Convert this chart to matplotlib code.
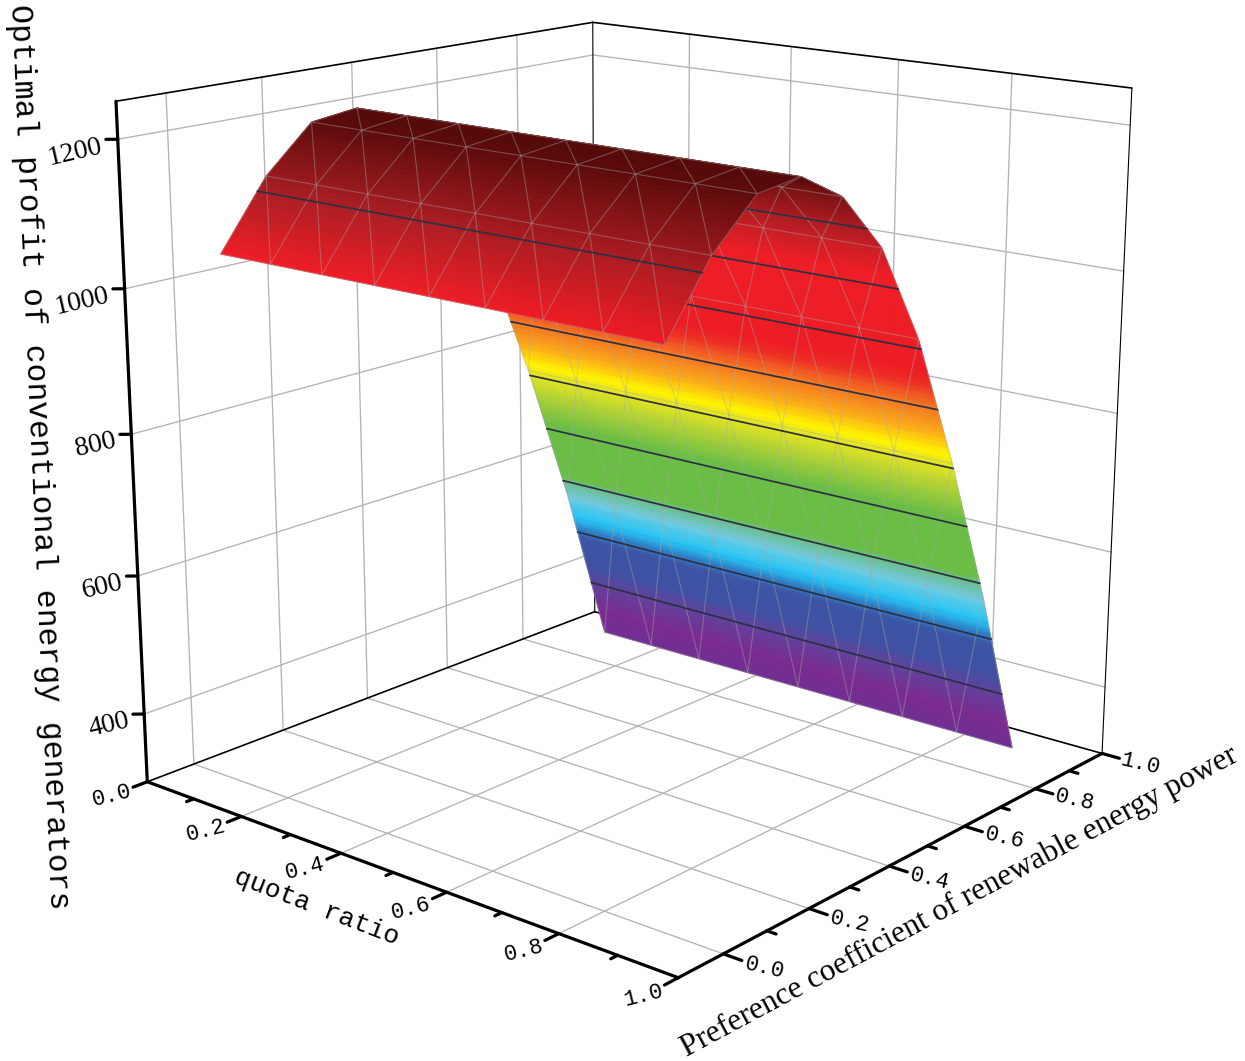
import numpy as np
import matplotlib
matplotlib.use('Agg')
import matplotlib.pyplot as plt
from matplotlib.colors import LinearSegmentedColormap, Normalize
from mpl_toolkits.mplot3d import proj3d
from mpl_toolkits.mplot3d.art3d import Line3DCollection

# values
quota = [0.1, 0.2, 0.3, 0.4, 0.5, 0.6, 0.7, 0.8, 0.9]
pref = [0.0, 0.1, 0.2, 0.3, 0.4, 0.5, 0.6, 0.7, 0.8, 0.9]
profit = [1046, 1138, 1199, 1207, 1169, 1090, 955, 768, 555, 310]
contour_levels = [400, 490, 580, 670, 760, 850, 940, 1030, 1120]

quota_ticks = [0.0, 0.2, 0.4, 0.6, 0.8, 1.0]
pref_ticks = [0.0, 0.2, 0.4, 0.6, 0.8, 1.0]
profit_ticks = [400, 600, 800, 1000, 1200]
quota_minor = [0.1, 0.3, 0.5, 0.7, 0.9]
pref_minor = [0.1, 0.3, 0.5, 0.7, 0.9]

QMIN, QMAX = 0.0, 1.0
PMIN, PMAX = -0.1, 1.0
ZMIN, ZMAX = 300, 1250
RIDGE = 3  # index of top row in pref

color_stops = [
    (300, '#6c2f92'), (350, '#7b2a90'), (400, '#5f429c'), (430, '#3e50a2'),
    (480, '#3b54a4'), (500, '#2a8fd0'), (518, '#27c4f4'), (550, '#6ccbe3'),
    (575, '#6dbf9a'), (590, '#6abd45'), (680, '#6abd45'), (730, '#b3d235'),
    (765, '#e6e61f'), (782, '#fff200'), (810, '#fcb316'), (830, '#f7941d'),
    (851, '#f47a20'), (890, '#ed2a24'), (910, '#ed1c24'), (1050, '#ed1c24'),
    (1120, '#ad1d23'), (1207, '#570a0a'),
]

W, H = 1245, 1061
MONO = 'Liberation Mono'
SERIF = 'Liberation Serif'

norm = Normalize(300, 1207)
cmap = LinearSegmentedColormap.from_list(
    'origin', [(norm(z), c) for z, c in color_stops], N=180)

fig = plt.figure(figsize=(W/100, H/100), dpi=100)
ax = fig.add_axes([27.31/W, 16.58/H, 1174.24/W, 1174.24/H], projection='3d',
                  computed_zorder=False)
ax.view_init(elev=15.8556, azim=-49.7085)
ax.set_proj_type('persp', focal_length=0.4851)
ax.set_box_aspect((1.0023, 0.9958, 1))
ax.set_axis_off()
ax.set_xlim(QMIN, QMAX)
ax.set_ylim(PMIN, PMAX)
ax.set_zlim(ZMIN, ZMAX)
ax.set_autoscale_on(False)
ax.set_xticks([])
ax.set_yticks([])
ax.set_zticks([])


def seg(ax, xs, ys, zs, zorder=1, **kw):
    ax.plot(xs, ys, zs, solid_capstyle='round', zorder=zorder, **kw)


def label(x, y, z, s, **kw):
    # 2D text placed at the projected point, so it knows its place on the page
    u, v, _ = proj3d.proj_transform(x, y, z, ax.get_proj())
    ax.text2D(u, v, s, transform=ax.transData, va='center',
              rotation_mode='anchor', zorder=13, **kw)


# walls and floor
GRID = dict(color='#b5b2b2', lw=0.95)
for z in profit_ticks:
    seg(ax, [QMIN, QMIN], [PMIN, PMAX], [z, z], **GRID)
    seg(ax, [QMIN, QMAX], [PMAX, PMAX], [z, z], **GRID)
for p in pref_ticks[:-1]:
    seg(ax, [QMIN, QMIN], [p, p], [ZMIN, ZMAX], **GRID)
    seg(ax, [QMIN, QMAX], [p, p], [ZMIN, ZMIN], **GRID)
for q in quota_ticks[1:-1]:
    seg(ax, [q, q], [PMAX, PMAX], [ZMIN, ZMAX], **GRID)
    seg(ax, [q, q], [PMIN, PMAX], [ZMIN, ZMIN], **GRID)

THIN = dict(color='black', lw=1.2)
seg(ax, [QMIN, QMIN], [PMIN, PMAX], [ZMAX, ZMAX], **THIN)
seg(ax, [QMIN, QMAX], [PMAX, PMAX], [ZMAX, ZMAX], **THIN)
seg(ax, [QMIN, QMIN], [PMAX, PMAX], [ZMIN, ZMAX], color='black', lw=0.8)
seg(ax, [QMAX, QMAX], [PMAX, PMAX], [ZMIN, ZMAX], color='black', lw=0.8)
seg(ax, [QMIN, QMIN], [PMIN, PMAX], [ZMIN, ZMIN], **THIN)
seg(ax, [QMIN, QMAX], [PMAX, PMAX], [ZMIN, ZMIN], **THIN)


def draw_part(rows, zbase):
    # one facet of the mesh is shaded in thin strips, colour follows height
    strip_p = []
    strip_z = []
    for j in rows[:-1]:
        strip_p += list(np.linspace(pref[j], pref[j+1], 60, endpoint=False))
        strip_z += list(np.linspace(profit[j], profit[j+1], 60, endpoint=False))
    strip_p.append(pref[rows[-1]])
    strip_z.append(profit[rows[-1]])
    strip_p = np.array(strip_p)
    strip_z = np.array(strip_z)
    X, Y = np.meshgrid([quota[0], quota[-1]], strip_p)
    Z = np.column_stack([strip_z, strip_z])
    mid = (strip_z[:-1] + strip_z[1:]) / 2
    colors = cmap(norm(mid))[:, None, :]
    ax.plot_surface(X, Y, Z, facecolors=colors, rstride=1, cstride=1,
                    shade=False, linewidth=0.6, antialiased=True, zorder=zbase)

    # pale triangle mesh
    segs = []
    for j in rows:
        segs.append([(quota[0], pref[j], profit[j]), (quota[-1], pref[j], profit[j])])
    for q in quota:
        segs.append([(q, pref[j], profit[j]) for j in rows])
    for k in range(len(quota) - 1):
        for j in rows[:-1]:
            segs.append([(quota[k+1], pref[j], profit[j]),
                         (quota[k], pref[j+1], profit[j+1])])
    ax.add_collection3d(Line3DCollection(segs, colors='#a9a9a9', linewidths=0.8,
                                         alpha=0.42, zorder=zbase + 1), autolim=False)

    # dark level lines
    rp = np.array([pref[j] for j in rows])
    rz = np.array([profit[j] for j in rows])
    o = np.argsort(rz)
    for level in contour_levels:
        if rz.min() < level < rz.max():
            p = np.interp(level, rz[o], rp[o])
            seg(ax, [quota[0], quota[-1]], [p, p], [level, level],
                color='#2d2f45', lw=1.25, zorder=zbase + 2)


draw_part(list(range(RIDGE, len(pref))), 3)
draw_part(list(range(0, RIDGE + 1)), 7)

# axes in front
THICK = dict(color='black', lw=2.3, zorder=12)
seg(ax, [QMIN, QMAX], [PMIN, PMIN], [ZMIN, ZMIN], **THICK)
seg(ax, [QMAX, QMAX], [PMIN, PMAX], [ZMIN, ZMIN], **THICK)
seg(ax, [QMIN, QMIN], [PMIN, PMIN], [ZMIN, ZMAX], **THICK)

for q in quota_ticks:
    seg(ax, [q, q], [PMIN, PMIN - 0.03], [ZMIN, ZMIN], **THICK)
    label(q, PMIN - 0.075, ZMIN, '%.1f' % q, family=MONO, fontsize=16,
          rotation=14, ha='center')
for q in quota_minor:
    seg(ax, [q, q], [PMIN, PMIN - 0.015], [ZMIN, ZMIN], **THICK)
for p in pref_ticks:
    seg(ax, [QMAX, QMAX + 0.03], [p, p], [ZMIN, ZMIN], **THICK)
    label(QMAX + 0.066, p, ZMIN, '%.1f' % p, family=MONO, fontsize=16,
          rotation=-13, ha='center')
for p in pref_minor:
    seg(ax, [QMAX, QMAX + 0.015], [p, p], [ZMIN, ZMIN], **THICK)
for z in profit_ticks:
    seg(ax, [QMIN, QMIN - 0.012], [PMIN, PMIN - 0.012], [z, z], **THICK)
    label(QMIN - 0.016, PMIN - 0.016, z - 9, str(z), family=SERIF, fontsize=20,
          rotation=13, ha='right')

fig.text(39/W, 1 - 457/H, 'Optimal profit of conventional energy generators',
         family=MONO, fontsize=22.6, rotation=-87.5, ha='center', va='center',
         rotation_mode='anchor')
fig.text(317/W, 1 - 907/H, 'quota ratio', family=MONO, fontsize=19, rotation=-21,
         ha='center', va='center', rotation_mode='anchor')
fig.text(960/W, 1 - 902/H, 'Preference coefficient of renewable energy power',
         family=SERIF, fontsize=22.6, rotation=28.2, ha='center', va='center',
         rotation_mode='anchor')

fig.savefig('out.png', dpi=100)
